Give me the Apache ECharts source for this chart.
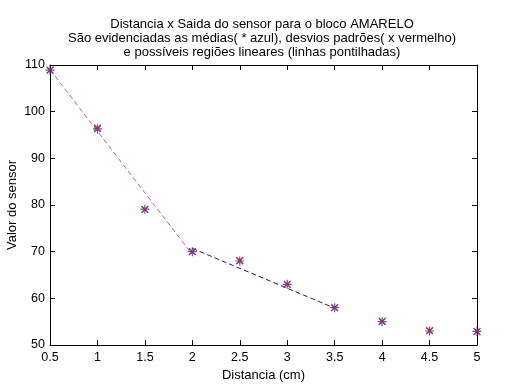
<!DOCTYPE html>
<html><head><meta charset="utf-8">
<script src="https://cdn.jsdelivr.net/npm/echarts@6/dist/echarts.min.js"></script>
<style>html,body{margin:0;padding:0;background:#fff}#c{width:524px;height:389px}</style>
</head><body><div id="c"></div>
<script>
const distances = [0.5, 1, 1.5, 2, 2.5, 3, 3.5, 4, 4.5, 5];
const means = [108.9, 96.3, 79.1, 70.0, 68.0, 63.0, 58.0, 55.0, 53.0, 52.9];
const stds = [108.9, 96.5, 79.0, 70.0, 68.1, 63.0, 58.0, 55.1, 53.1, 52.9];
const fit1 = [[0.5, 109.0], [2, 69.4]];
const fit2 = [[2, 70.7], [3.5, 57.9]];
const xTicks = [0.5, 5, 0.5];
const yTicks = [50, 110, 10];

const star = 'path://M0,-5L0,5M-5,0L5,0M-3.5,-3.5L3.5,3.5M-3.5,3.5L3.5,-3.5';
const cross = 'path://M-3.5,-3.5L3.5,3.5M-3.5,3.5L3.5,-3.5';
const font = 'Liberation Sans, Arial, sans-serif';
const chart = echarts.init(document.getElementById('c'));
const axisBase = {
  type: 'value',
  axisLine: {show: true, lineStyle: {color: '#000', width: 1}},
  axisTick: {show: true, inside: true, length: 5, lineStyle: {color: '#000'}},
  splitLine: {show: false},
};
chart.setOption({
  animation: false,
  backgroundColor: '#fff',
  title: {
    text: 'Distancia x Saida do sensor para o bloco AMARELO\nSão evidenciadas as médias( * azul), desvios padrões( x vermelho)\ne possíveis regiões lineares (linhas pontilhadas)',
    left: 'center', top: 12,
    textStyle: {fontFamily: font, fontSize: 13, fontWeight: 'normal', color: '#000', lineHeight: 14}
  },
  grid: {left: 50, right: 47, top: 65, bottom: 44, containLabel: false, outerBoundsMode: 'none'},
  xAxis: [
    Object.assign({}, axisBase, {min: xTicks[0], max: xTicks[1], interval: xTicks[2], position: 'bottom',
      name: 'Distancia (cm)', nameLocation: 'middle', nameGap: 24, nameMoveOverlap: false,
      nameTextStyle: {fontFamily: font, fontSize: 13, color: '#000'},
      axisLabel: {fontFamily: font, fontSize: 12.5, color: '#000', margin: 6}}),
    Object.assign({}, axisBase, {min: xTicks[0], max: xTicks[1], interval: xTicks[2], position: 'top', axisLabel: {show: false}})
  ],
  yAxis: [
    Object.assign({}, axisBase, {min: yTicks[0], max: yTicks[1], interval: yTicks[2], position: 'left',
      name: 'Valor do sensor', nameLocation: 'middle', nameGap: 31, nameMoveOverlap: false,
      nameTextStyle: {fontFamily: font, fontSize: 13, color: '#000'},
      axisLabel: {fontFamily: font, fontSize: 12.5, color: '#000', margin: 5}}),
    Object.assign({}, axisBase, {min: yTicks[0], max: yTicks[1], interval: yTicks[2], position: 'right', axisLabel: {show: false}})
  ],
  series: [
    {type: 'line', data: fit1, symbol: 'none', lineStyle: {color: '#c05aa8', width: 1, type: [5, 3]}, z: 2},
    {type: 'line', data: fit2, symbol: 'none', lineStyle: {color: '#1c1c7a', width: 1, type: [5, 3]}, z: 2},
    {type: 'scatter', data: distances.map((d, i) => [d, means[i]]), symbol: star, symbolSize: 9,
      itemStyle: {color: 'rgba(0,0,0,0)', borderColor: '#3a2a9a', borderWidth: 1.2}, z: 3},
    {type: 'scatter', data: distances.map((d, i) => [d, stds[i]]), symbol: cross, symbolSize: 7,
      itemStyle: {color: 'rgba(0,0,0,0)', borderColor: '#b0204a', borderWidth: 1.2, opacity: 0.8}, z: 4}
  ]
});
</script></body></html>
